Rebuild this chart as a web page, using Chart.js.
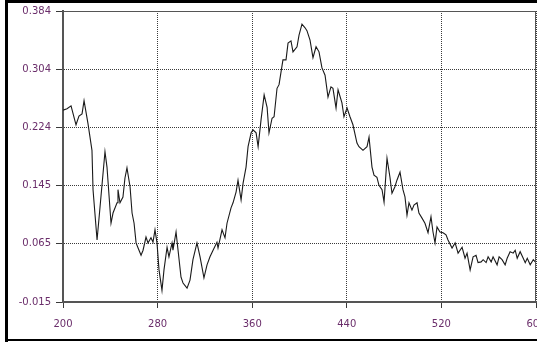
<!DOCTYPE html>
<html>
<head>
<meta charset="utf-8">
<title>Absorbance spectrum</title>
<script src="https://cdn.jsdelivr.net/npm/chart.js@4"></script>
<style>
  html, body { margin: 0; padding: 0; background: #fff; overflow: hidden; }
  canvas { display: block; }
</style>
</head>
<body>
<canvas id="spectrum" width="537" height="342"></canvas>
<script>
// wavelength (nm) and absorbance
const wavelengths = [
  200, 203.4, 206.8, 211, 213.5, 216.1, 217.8, 221.1, 224.5, 225.4,
  228.8, 231.3, 235.5, 237.2, 240.6, 242.3, 245.7, 246.5, 248.2, 250.7,
  252.4, 254.1, 256.7, 258.4, 260.1, 261.8, 263.5, 266, 267.7, 270.2,
  271.9, 274.4, 276.1, 277.8, 279.5, 281.2, 283.7, 285.4, 288, 289.6,
  292.2, 293, 295.6, 297.3, 299.8, 301.5, 304.9, 307.4, 309.9, 313.3,
  315.9, 319.2, 321.8, 324.3, 326.9, 330.2, 331.1, 334.5, 337, 338.7,
  342.1, 343.8, 346.4, 348, 350.6, 352.3, 354.8, 356.5, 359.1, 360.7,
  363.3, 365, 367.5, 370.1, 372.6, 374.2, 376.8, 378.5, 381, 382.7,
  386, 388.6, 390.3, 392.8, 394.5, 397.9, 399.6, 402.1, 404.7, 406.3,
  408.9, 411.4, 414, 416.5, 419, 421.6, 424.1, 426.6, 428.3, 430.9,
  432.6, 435.9, 437.6, 440.2, 442.7, 445.2, 448.6, 450.3, 453.7, 457.1,
  458.8, 461.3, 463, 465.5, 467.2, 469.8, 471.5, 474, 476.5, 478.2,
  480.7, 482.4, 485, 487.5, 489.2, 490.9, 492.6, 495.1, 496.8, 499.4,
  501, 503.6, 506.1, 508.7, 511.2, 512.9, 514.6, 516.3, 518.8, 521.4,
  523.9, 525.6, 529, 531.6, 534.1, 537.5, 540, 541.7, 544.3, 546.8,
  549.3, 551, 553.6, 555.3, 557.8, 559.5, 562.1, 563.7, 567.1, 568.8,
  571.3, 573.9, 575.6, 578.1, 580.7, 582.4, 584.1, 586.6, 589.2, 590.9,
  592.6, 595.1, 597.7, 599.4
];

const absorbance = [
  0.248, 0.250, 0.254, 0.228, 0.240, 0.243, 0.261, 0.230, 0.193, 0.139,
  0.070, 0.115, 0.191, 0.170, 0.093, 0.107, 0.121, 0.139, 0.121, 0.129,
  0.155, 0.169, 0.143, 0.107, 0.093, 0.066, 0.059, 0.049, 0.056, 0.074,
  0.066, 0.073, 0.067, 0.084, 0.066, 0.029, 0.001, 0.029, 0.060, 0.047,
  0.066, 0.056, 0.081, 0.056, 0.019, 0.011, 0.004, 0.015, 0.043, 0.066,
  0.047, 0.018, 0.036, 0.047, 0.056, 0.067, 0.059, 0.084, 0.073, 0.093,
  0.114, 0.121, 0.136, 0.152, 0.125, 0.148, 0.170, 0.198, 0.217, 0.221,
  0.217, 0.198, 0.235, 0.269, 0.252, 0.217, 0.237, 0.239, 0.278, 0.283,
  0.317, 0.317, 0.340, 0.343, 0.328, 0.335, 0.351, 0.366, 0.361, 0.357,
  0.344, 0.320, 0.335, 0.328, 0.306, 0.296, 0.266, 0.280, 0.278, 0.251,
  0.276, 0.258, 0.239, 0.251, 0.239, 0.228, 0.203, 0.198, 0.193, 0.198,
  0.211, 0.170, 0.159, 0.156, 0.145, 0.139, 0.122, 0.182, 0.156, 0.134,
  0.143, 0.152, 0.163, 0.139, 0.129, 0.104, 0.121, 0.111, 0.118, 0.121,
  0.107, 0.100, 0.093, 0.080, 0.102, 0.081, 0.066, 0.088, 0.081, 0.080,
  0.077, 0.070, 0.059, 0.066, 0.052, 0.060, 0.045, 0.052, 0.029, 0.047,
  0.049, 0.039, 0.040, 0.043, 0.039, 0.047, 0.040, 0.047, 0.036, 0.047,
  0.043, 0.036, 0.045, 0.054, 0.052, 0.056, 0.045, 0.054, 0.045, 0.039,
  0.045, 0.036, 0.043, 0.040
];

const xTicks = [200, 280, 360, 440, 520, 600];
const yTicks = [-0.015, 0.065, 0.145, 0.224, 0.304, 0.384];

const labelColor = "#6a2d6a";
const gridColor = "#3a3a3a";

// black outer frame plus the thin top/right edges of the plot box
const framePlugin = {
  id: "frame",
  beforeDraw(chart) {
    const ctx = chart.ctx;
    ctx.save();
    ctx.fillStyle = "#fff";
    ctx.fillRect(0, 0, chart.width, chart.height);
    ctx.restore();
  },
  afterDraw(chart) {
    const { ctx, chartArea: a } = chart;
    ctx.save();
    ctx.strokeStyle = "#555";
    ctx.lineWidth = 1;
    ctx.beginPath();
    ctx.moveTo(a.left, a.top + 0.5);
    ctx.lineTo(a.right, a.top + 0.5);
    ctx.moveTo(a.right - 0.5, a.top);
    ctx.lineTo(a.right - 0.5, a.bottom);
    ctx.stroke();

    ctx.fillStyle = "#000";
    ctx.fillRect(5, 0, 3, chart.height);
    ctx.fillRect(5, 0, chart.width - 5, 3);
    ctx.fillRect(5, chart.height - 3, chart.width - 5, 2);
    ctx.restore();
  }
};

document.addEventListener("DOMContentLoaded", () => {
  const points = wavelengths.map((w, i) => ({ x: w, y: absorbance[i] }));
  const ctx = document.getElementById("spectrum").getContext("2d");

  new Chart(ctx, {
    type: "line",
    data: {
      datasets: [{
        data: points,
        borderColor: "#1a1a1a",
        borderWidth: 1.1,
        pointRadius: 0,
        tension: 0,
        fill: false
      }]
    },
    options: {
      responsive: false,
      animation: false,
      devicePixelRatio: 1,
      layout: { padding: { left: 0, right: 1, top: 11, bottom: 0 } },
      plugins: { legend: { display: false }, tooltip: { enabled: false } },
      scales: {
        x: {
          type: "linear",
          min: 200,
          max: 600,
          afterBuildTicks: (scale) => { scale.ticks = xTicks.map(v => ({ value: v })); },
          afterFit: (scale) => {
            scale.height = 40;
            scale.paddingLeft = 0;
            scale.paddingRight = 0;
          },
          ticks: {
            color: labelColor,
            font: { family: "DejaVu Sans", size: 10 },
            padding: 10,
            maxRotation: 0,
            autoSkip: false,
            callback: (v) => String(v)
          },
          grid: { color: gridColor, lineWidth: 1, tickLength: 6, tickColor: gridColor },
          border: { color: "#555", width: 2, dash: [1, 1] }
        },
        y: {
          min: -0.015,
          max: 0.384,
          afterBuildTicks: (scale) => { scale.ticks = yTicks.map(v => ({ value: v })); },
          afterFit: (scale) => {
            scale.width = 63;
            scale.paddingTop = 0;
            scale.paddingBottom = 0;
          },
          ticks: {
            color: labelColor,
            font: { family: "DejaVu Sans", size: 10 },
            padding: 5,
            autoSkip: false,
            callback: (v) => v.toFixed(3)
          },
          grid: { color: gridColor, lineWidth: 1, tickLength: 7, tickColor: gridColor },
          border: { color: "#555", width: 2, dash: [1, 1] }
        }
      }
    },
    plugins: [framePlugin]
  });
});
</script>
</body>
</html>
